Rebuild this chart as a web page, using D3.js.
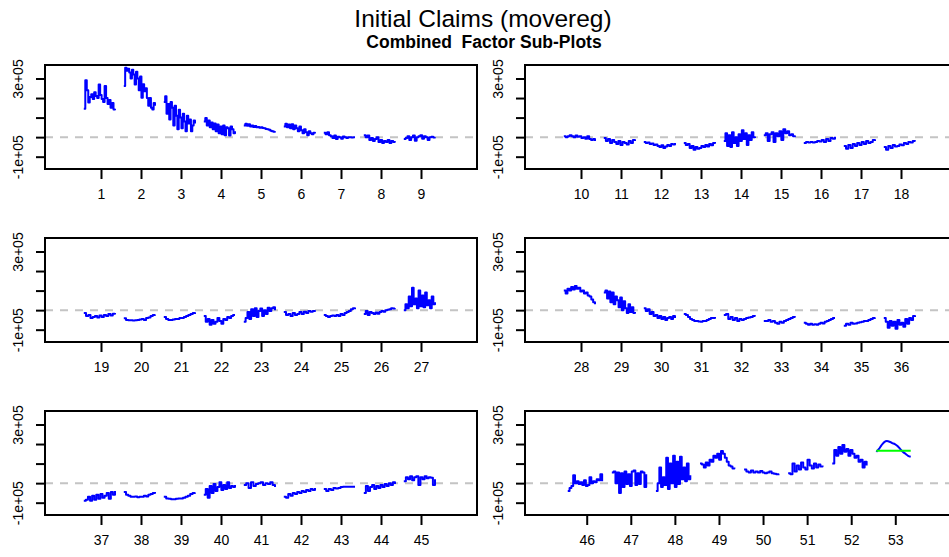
<!DOCTYPE html>
<html>
<head>
<meta charset="utf-8">
<script src="https://cdnjs.cloudflare.com/ajax/libs/d3/7.8.5/d3.min.js"></script>
<style>
	body { margin: 0; background: #ffffff; }
	svg { display: block; font-family: "Liberation Sans", Arial, sans-serif; }
</style>
</head>
<body>
<svg id="chart" width="949" height="557"></svg>
<script>
/*	Data: weekly factor sub-series, values in thousands -----------------------*/
var panel1Weeks = [1, 2, 3, 4, 5, 6, 7, 8, 9];
var panel1Values = [
	[145, 291, 240, 177, 205, 220, 195, 230, 210, 200, 269, 215, 195, 180, 262, 200, 170, 190, 150, 175, 141, 145],
	[261, 355, 340, 350, 330, 300, 345, 320, 269, 335, 300, 240, 310, 202, 270, 235, 250, 200, 160, 200, 150, 141, 175, 160],
	[180, 209, 120, 170, 90, 180, 150, 60, 160, 110, 40, 140, 100, 45, 120, 80, 30, 110, 70, 90, 30, 60, 85, 70],
	[80, 98, 60, 85, 50, 75, 40, 70, 30, 65, 20, 55, 15, 60, 10, 50, 45, 8, 55, 40, 20, 30],
	[60, 68, 58, 66, 55, 60, 52, 57, 50, 52, 48, 50, 47, 45, 42, 40, 38, 33, 30, 28, 30],
	[55, 68, 50, 65, 45, 66, 40, 60, 45, 30, 55, 35, 20, 40, 25, 10, 30, 20, 15, 22, 18],
	[22, 15, 25, 10, 5, -5, 8, -10, 2, 0, -8, 3, 0, -5, 0, 0, -2, 0, 0],
	[10, 0, 8, -15, -5, -20, -10, 0, -25, -15, -30, -20, -25, -15, -30, -20, -25, -28],
	[-10, -5, 5, -15, 0, 8, -18, 0, 5, 10, -8, 5, 0, -15, 0, 2, -2, 0]
];
var panel2Weeks = [10, 11, 12, 13, 14, 15, 16, 17, 18];
var panel2Values = [
	[5, 0, 5, 10, 5, 0, 8, 2, 5, -5, 0, -8, 5, -10, -15, -10, -20],
	[-5, -20, -10, -30, -15, -25, -35, -20, -40, -25, -30, -38, -20, -30, -15, -20],
	[-25, -30, -28, -35, -32, -40, -38, -45, -50, -42, -55, -48, -40, -45, -35, -38, -30],
	[-30, -40, -35, -55, -45, -65, -50, -60, -55, -45, -50, -40, -48, -35, -42, -30, -25],
	[-20, 20, -45, 10, -50, 25, -30, 0, -45, 15, -20, 35, -10, 20, -40, 10, -15, 25, 0, -5],
	[10, 20, -20, 15, 25, -25, 20, 5, 30, -15, 40, 20, 30, 10, 15, 5, 8],
	[-30, -25, -28, -25, -27, -25, -20, -22, -15, -25, -10, -20, -5, -8, 2],
	[-45, -60, -40, -55, -35, -45, -30, -40, -25, -35, -20, -30, -25, -15, -20],
	[-50, -65, -45, -55, -40, -48, -45, -38, -42, -30, -35, -25, -28, -20, -22]
];
var panel3Weeks = [19, 20, 21, 22, 23, 24, 25, 26, 27];
var panel3Values = [
	[-15, -30, -25, -40, -35, -30, -38, -28, -35, -25, -30, -20, -28, -18, -15],
	[-42, -50, -52, -52, -53, -52, -50, -48, -45, -50, -40, -38, -30, -25, -22],
	[-35, -45, -50, -50, -48, -45, -45, -40, -40, -35, -30, -25, -20, -15, -20],
	[-30, -60, -45, -75, -50, -70, -60, -40, -55, -70, -45, -50, -35, -40, -30, -25, -25],
	[-60, -40, -10, -45, 5, -30, 10, -35, -5, 8, -30, 0, -20, 12, -5, 10, 15, 0],
	[-10, -25, -20, -30, -15, -25, -20, -10, -20, -8, -15, -5, -8, -5, -8],
	[-25, -30, -35, -30, -28, -30, -25, -30, -20, -25, -15, -10, -5, 5, 10, 5],
	[-20, -5, -25, -10, -15, -20, -12, -18, -10, -5, -8, 0, 2, 5, 10, 8, 10],
	[0, 30, 10, 70, 20, 115, 30, 60, 10, 100, 20, 75, 15, 90, 25, 50, 10, 70, 30, 40]
];
var panel4Weeks = [28, 29, 30, 31, 32, 33, 34, 35, 36];
var panel4Values = [
	[100, 85, 110, 100, 118, 105, 123, 110, 115, 95, 100, 85, 90, 75, 70, 55, 40, 30],
	[90, 100, 60, 95, 40, 90, 30, 70, 50, 15, 65, 0, 45, 10, -15, 30, -10, 15, -15, -10],
	[10, -5, 5, -20, -10, -30, -25, -40, -30, -45, -35, -50, -40, -35, -45, -30, -40],
	[-20, -25, -35, -45, -50, -55, -55, -58, -60, -55, -55, -50, -45, -40, -40, -35],
	[-25, -20, -45, -35, -50, -40, -55, -45, -50, -45, -40, -38, -35, -30, -32],
	[-55, -55, -50, -60, -55, -65, -70, -60, -65, -55, -50, -45, -40, -35, -38],
	[-65, -70, -75, -70, -75, -72, -75, -70, -65, -68, -60, -55, -50, -45, -40, -40],
	[-80, -70, -75, -65, -70, -68, -65, -62, -60, -55, -55, -50, -45, -40, -38],
	[-40, -60, -90, -55, -80, -60, -95, -50, -75, -65, -85, -45, -70, -40, -50, -30, -35]
];
var panel5Weeks = [37, 38, 39, 40, 41, 42, 43, 44, 45];
var panel5Values = [
	[-90, -85, -70, -90, -65, -85, -60, -80, -55, -75, -65, -50, -80, -45, -60, -40],
	[-45, -60, -65, -70, -70, -68, -72, -70, -70, -65, -68, -60, -55, -50, -45],
	[-70, -78, -80, -82, -82, -80, -78, -78, -75, -70, -65, -55, -50, -48],
	[-60, -30, -75, -15, -50, -5, -40, -20, 5, -35, -10, -30, 5, -25, -15, -20, -10],
	[-10, 0, -25, 5, -15, -5, 0, 5, -10, 0, -5, 5, -10, -20],
	[-70, -75, -55, -65, -50, -55, -45, -50, -40, -45, -35, -40, -30, -35, -25],
	[-30, -40, -30, -35, -25, -28, -25, -20, -18, -18, -18, -18, -18, -18],
	[-50, -15, -40, -20, -10, -30, -15, -25, -10, -20, -5, -15, 0, -10, 5, -5],
	[10, 30, 20, 35, 15, 30, 35, -10, 30, 20, 35, 25, 30, 28, -10, 20]
];
var panel6Weeks = [46, 47, 48, 49, 50, 51, 52, 53];
var panel6Values = [
	[-40, -25, -15, 40, 0, 10, -5, 5, -10, 15, -15, -10, 30, 0, 10, 5, 20, 15, 45, 10],
	[55, 60, 0, 55, -50, 50, -20, 60, -5, 45, -15, 60, 65, -10, 50, -5, 60, 55, -20, 45],
	[-40, 0, 80, -20, 30, -10, 130, -30, 100, 0, 140, -20, 110, -5, 135, 20, 80, 10, 100, 20, 40],
	[100, 95, 80, 105, 90, 120, 110, 140, 130, 150, 120, 165, 150, 130, 110, 90, 85, 75, 80],
	[70, 60, 55, 65, 55, 60, 55, 62, 55, 50, 55, 60, 50, 48, 45, 40],
	[50, 45, 100, 60, 90, 70, 105, 80, 70, 120, 90, 75, 100, 80, 95, 85, 90],
	[100, 170, 140, 185, 150, 195, 160, 175, 140, 170, 150, 130, 140, 110, 120, 80, 110, 90],
	[160, 175, 195, 210, 215, 212, 205, 200, 190, 175, 160, 150, 140, 135]
];
/*	Week 53 level line (green) --------------------------------------------------*/
var week53Level = [166, 166];

var yTickValues = [-100000, 0, 100000, 200000, 300000];
var yTickLabels = ["-1e+05", "", "", "", "3e+05"];
var titleText = "Initial Claims (movereg)";
var subtitleText = "Combined  Factor Sub-Plots";

/*	Layout --------------------------------------------------------------------*/
var svg = d3.select("#chart");
var colLeft = [45, 525];
var rowTop = [65, 238, 411];
var boxW = 432, boxH = 104;
var yDomain = [-163000, 369000];
var groupSpan = [-0.43, 0.35];

var panels = [
	{ weeks: panel1Weeks, values: panel1Values, col: 0, row: 0 },
	{ weeks: panel2Weeks, values: panel2Values, col: 1, row: 0 },
	{ weeks: panel3Weeks, values: panel3Values, col: 0, row: 1 },
	{ weeks: panel4Weeks, values: panel4Values, col: 1, row: 1 },
	{ weeks: panel5Weeks, values: panel5Values, col: 0, row: 2 },
	{ weeks: panel6Weeks, values: panel6Values, col: 1, row: 2 }
];

/*	Titles --------------------------------------------------------------------*/
svg.append("text")
	.attr("x", 483)
	.attr("y", 27)
	.attr("text-anchor", "middle")
	.attr("font-size", "24.5px")
	.attr("fill", "#000")
	.text(titleText);
svg.append("text")
	.attr("x", 484)
	.attr("y", 48)
	.attr("text-anchor", "middle")
	.attr("font-size", "17.5px")
	.attr("font-weight", "bold")
	.attr("fill", "#000")
	.style("white-space", "pre")
	.text(subtitleText);

/*	Draw one panel -------------------------------------------------------------*/
var drawPanel = function(p) {
	var left = colLeft[p.col];
	var top = rowTop[p.row];
	var first = p.weeks[0], last = p.weeks[p.weeks.length - 1];
	var xScale = d3.scaleLinear()
		.domain([first - 1.4, last + 1.4])
		.range([left, left + boxW]);
	var yScale = d3.scaleLinear()
		.domain(yDomain)
		.range([top + boxH, top]);
	var g = svg.append("g").attr("class", "panel");

	/*	zero reference line ---------------------------------------------------*/
	g.append("line")
		.attr("x1", left)
		.attr("x2", left + boxW)
		.attr("y1", yScale(0))
		.attr("y2", yScale(0))
		.attr("stroke", "#c4c4c4")
		.attr("stroke-width", 2)
		.attr("stroke-dasharray", "8,7");

	/*	factor sub-series -----------------------------------------------------*/
	var seriesLine = function(week, vals, curve) {
		var pos = d3.scaleLinear()
			.domain([0, vals.length - 1])
			.range([week + groupSpan[0], week + groupSpan[1]]);
		return d3.line()
			.curve(curve)
			.x(function(d, i) { return xScale(pos(i)); })
			.y(function(d) { return yScale(d * 1000); })(vals);
	};
	p.values.forEach(function(vals, i) {
		var smooth = p.weeks[i] === 53;
		g.append("path")
			.attr("d", seriesLine(p.weeks[i], vals, smooth ? d3.curveMonotoneX : d3.curveStepAfter))
			.attr("fill", "none")
			.attr("stroke", "#0000ff")
			.attr("stroke-width", 2)
			.attr("stroke-linejoin", "round");
	});
	if (last === 53) {
		g.append("path")
			.attr("d", seriesLine(53, week53Level, d3.curveLinear))
			.attr("fill", "none")
			.attr("stroke", "#00ff00")
			.attr("stroke-width", 2);
	}

	/*	box -------------------------------------------------------------------*/
	g.append("rect")
		.attr("x", left)
		.attr("y", top)
		.attr("width", boxW)
		.attr("height", boxH)
		.attr("fill", "none")
		.attr("stroke", "#000")
		.attr("stroke-width", 2);

	/*	x axis ----------------------------------------------------------------*/
	var xAxis = d3.axisBottom(xScale)
		.tickValues(p.weeks)
		.tickFormat(d3.format("d"))
		.tickSize(10)
		.tickPadding(10);
	g.append("g")
		.attr("transform", "translate(0," + (top + boxH) + ")")
		.call(xAxis)
		.call(function(a) { a.select(".domain").remove(); })
		.call(function(a) {
			a.selectAll(".tick line").attr("stroke", "#000").attr("stroke-width", 2);
			a.selectAll(".tick text")
				.attr("font-size", "14px")
				.attr("font-family", "Liberation Sans, Arial, sans-serif")
				.attr("fill", "#000");
		});

	/*	y axis ----------------------------------------------------------------*/
	var yAxis = d3.axisLeft(yScale)
		.tickValues(yTickValues)
		.tickFormat(function(d, i) { return yTickLabels[i]; })
		.tickSize(9);
	g.append("g")
		.attr("transform", "translate(" + left + ",0)")
		.call(yAxis)
		.call(function(a) { a.select(".domain").remove(); })
		.call(function(a) {
			a.selectAll(".tick line").attr("stroke", "#000").attr("stroke-width", 2);
			a.selectAll(".tick text")
				.attr("font-size", "14px")
				.attr("font-family", "Liberation Sans, Arial, sans-serif")
				.attr("fill", "#000")
				.attr("x", null)
				.attr("dy", null)
				.attr("text-anchor", "middle")
				.attr("transform", "translate(-22,0) rotate(-90)")
				.attr("y", 0);
		});
};

panels.forEach(drawPanel);
</script>
</body>
</html>
